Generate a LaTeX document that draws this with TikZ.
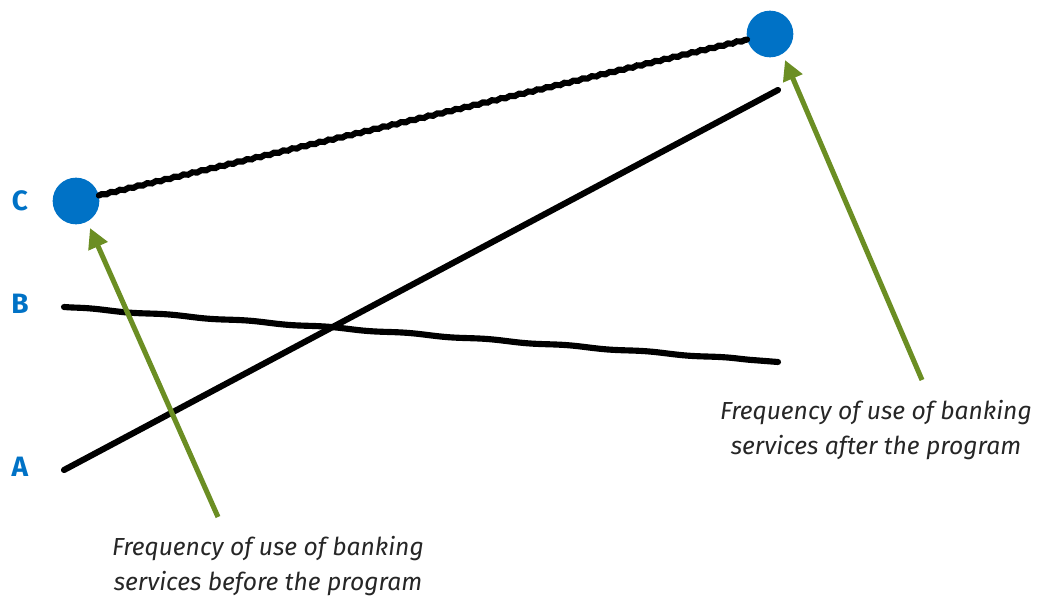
\documentclass[tikz,border=0pt]{standalone}
\usepackage{fontspec}
\setmainfont{Fira Sans}
\newfontfamily\capit{Fira Sans Italic}
\usetikzlibrary{decorations.pathmorphing,arrows.meta}
\definecolor{dotblue}{HTML}{0072C6}
\definecolor{arrgreen}{HTML}{6B8E23}
\definecolor{captxt}{HTML}{262626}
\tikzset{
  dot/.style={circle,fill=dotblue,inner sep=0pt,minimum size=35pt},
  lvl/.style={text=dotblue,font=\bfseries\fontsize{21}{21}\selectfont,inner sep=0pt},
  ropeline/.style={line width=4.6pt,line cap=round,decorate,decoration={snake,amplitude=0.5pt,segment length=7pt}},
  wavyline/.style={line width=4.6pt,line cap=round,decorate,decoration={snake,amplitude=0.45pt,segment length=60pt}},
  plainline/.style={line width=4.6pt,line cap=round},
  pointer/.style={arrgreen,line width=3.8pt,-{Triangle[length=15pt,width=15pt]}},
  caption/.style={text=captxt,font=\capit\fontsize{18.5}{26.5}\selectfont,align=center,inner sep=0pt}
}
\begin{document}
\begin{tikzpicture}[x=0.75pt,y=-0.75pt]
\useasboundingbox (0,0) rectangle (1048,598);
\node[dot] (c0) at (76,201) {};
\node[dot] (c1) at (770,34) {};
\node[lvl] (lc) at (20,201) {C};
\node[lvl] (lb) at (20,304) {B};
\node[lvl] (la) at (20,467) {A};
\coordinate (b0) at (64,307);
\coordinate (b1) at (778,362);
\coordinate (a0) at (64,470);
\coordinate (a1) at (778,90);
\draw[ropeline] (c0) -- (c1);
\draw[wavyline] (b0) -- (b1);
\draw[plainline] (a0) -- (a1);
\node[caption] (t1) at (268,566) {Frequency of use of banking\\services before the program};
\node[caption] (t2) at (876,430) {Frequency of use of banking\\services after the program};
\coordinate (p0) at (218,517);
\coordinate (p1) at (90,228);
\coordinate (q0) at (922,380);
\coordinate (q1) at (785,60);
\draw[pointer] (p0) -- (p1);
\draw[pointer] (q0) -- (q1);
\end{tikzpicture}
\end{document}
